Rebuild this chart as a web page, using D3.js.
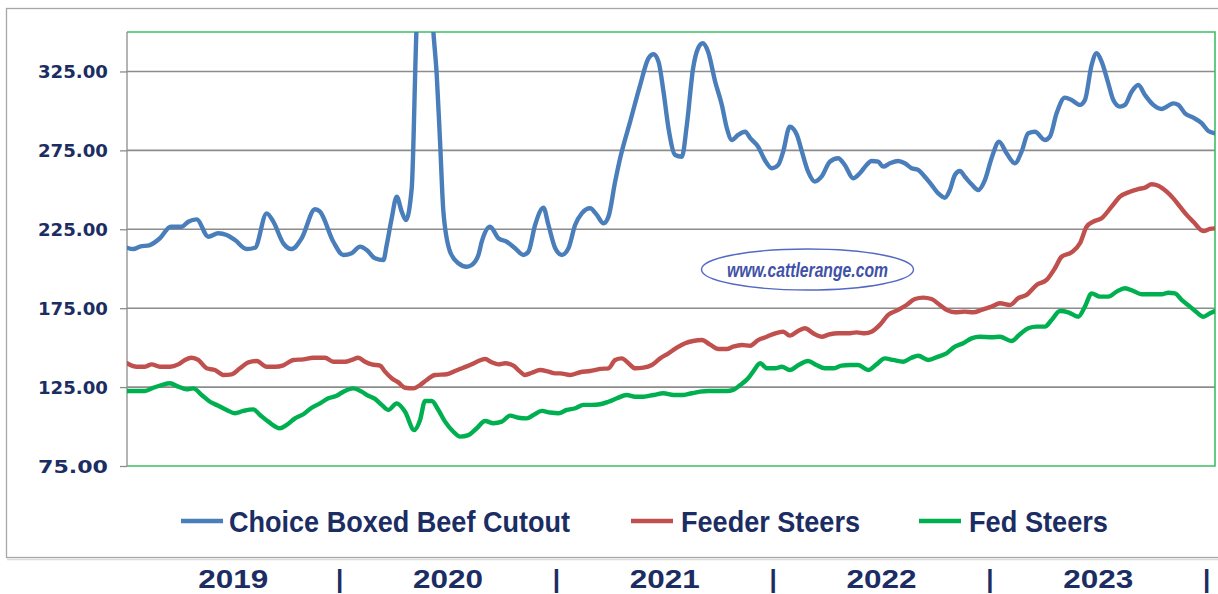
<!DOCTYPE html>
<html>
<head>
<meta charset="utf-8">
<script src="https://cdn.jsdelivr.net/npm/d3@7"></script>
<style>
  html, body { margin: 0; padding: 0; background: #ffffff; }
  svg { display: block; }
</style>
</head>
<body>
<svg id="chart" width="1218" height="594"></svg>
<script>
// ---------------- DATA (week index from start of series, value in $/cwt) ----------------
const beefWeeks = [0,1.5,3.1,5.5,7.9,10.5,13.1,14.7,16.7,19.5,21.9,23.9,25.9,28.7,30.7,33.5,35.1,37.5,39.5,41.9,45.1,46.3,49.5,51.9,53.9,55.9,57.5,59.5,61.5,62.3,63.5,64.7,65.9,66.9,68.3,69.3,71.0,73.5,74.3,75.1,75.9,77.5,79.5,81.5,82.7,84.3,85.1,87.1,89.1,91.1,93.1,95.1,96.3,97.9,99.9,101.1,102.7,104.3,105.9,107.5,109.1,111.1,112.7,114.3,115.5,117.1,118.3,120.7,123.1,125.1,126.3,127.5,128.7,129.9,131.5,133.1,134.3,135.8,137.0,138.1,139.4,141.1,142.7,143.9,145.1,146.6,148.3,149.5,151.4,153.0,154.7,156.2,157.4,159.0,160.7,161.9,163.4,165.0,166.6,168.6,170.6,172.2,174.2,175.8,177.4,178.6,180.2,181.4,183.0,185.0,186.6,188.2,189.8,191.4,193.0,194.6,196.2,197.4,198.6,199.8,201.0,202.6,204.2,205.8,207.4,209.2,211.0,213.0,214.6,216.2,217.8,220.2,221.4,223.0,225.0,226.6,228.6,229.8,231.4,232.6,233.8,235.4,236.6,238.2,239.4,241.0,242.6,244.2,246.2,248.2,249.4,251.0,252.2,253.8,255.8,257.8,259.4,261.0];
const beefValues = [213.3,212.5,214.0,215.0,219.3,226.6,226.6,229.8,231.3,220.3,222.5,221.4,218.2,212.5,213.3,235.1,229.8,216.1,212.5,219.3,237.7,236.2,217.1,208.7,209.8,214.0,211.9,206.6,205.5,215.0,232.0,245.7,236.2,230.9,251.0,340.0,470.0,350.0,322.8,280.5,236.2,210.8,203.5,201.3,202.4,208.7,217.1,226.6,219.3,217.1,213.0,208.7,210.8,227.7,238.7,227.7,213.1,208.7,213.0,227.7,235.1,238.3,234.1,228.8,233.0,255.2,270.0,293.2,316.4,333.4,335.9,331.2,312.2,289.0,272.1,271.0,291.1,327.0,339.7,342.9,337.5,318.5,303.8,289.0,281.6,284.8,286.8,282.7,277.3,268.9,263.7,265.7,274.2,290.0,284.8,274.2,261.5,255.2,258.3,267.8,270.0,265.7,257.3,260.5,265.7,268.3,267.8,264.7,266.8,268.3,266.8,263.7,262.6,258.3,253.1,247.8,245.0,249.9,259.4,261.9,258.3,253.5,249.9,256.2,270.0,280.5,273.2,266.8,274.2,285.8,286.8,281.6,283.7,298.5,308.4,306.9,303.8,306.9,329.1,336.5,331.2,317.5,306.9,302.7,303.8,312.2,316.4,310.1,303.8,301.2,302.7,304.8,303.8,298.5,295.7,292.2,287.3,285.8];

const feederWeeks = [0,2.3,4.3,5.9,7.9,10.3,12.3,13.9,15.5,17.1,19.1,21.1,23.1,25.1,27.1,29.1,31.1,33.5,35.5,37.5,39.9,42.3,44.7,47.5,49.5,52.3,53.9,55.5,57.1,58.7,60.7,61.9,63.5,65.1,66.7,68.7,70.3,71.9,73.9,76.7,78.7,80.7,82.7,84.3,85.9,87.5,89.1,90.7,92.7,94.3,95.5,97.1,99.1,101.1,102.7,103.9,106.3,108.7,111.1,113.5,115.5,117.1,118.7,120.3,121.9,123.9,125.9,127.9,129.9,131.9,133.9,135.8,137.9,139.8,141.9,143.9,145.4,147.5,149.5,151.4,153.5,155.5,157.4,159.0,160.7,162.6,164.6,166.6,168.6,170.6,173.0,175.0,177.0,178.6,180.6,182.6,185.0,187.0,189.0,191.0,193.0,195.0,196.6,198.6,201.0,203.0,205.0,207.4,209.4,211.8,213.8,215.8,218.2,220.6,222.6,224.2,226.6,228.6,230.2,231.8,233.8,236.2,238.2,240.6,242.6,244.2,245.8,247.4,249.4,251.0,252.6,254.2,255.8,258.2,259.8,261.0];
const feederValues = [140.1,137.9,137.9,139.4,137.9,137.9,139.4,142.2,143.6,142.2,136.9,135.8,132.7,133.1,136.9,140.7,141.5,137.9,137.9,138.8,142.2,142.6,143.6,143.6,141.1,141.1,142.2,143.6,141.1,139.4,138.6,134.8,130.6,128.0,124.6,124.2,126.3,129.5,132.7,133.1,135.2,137.3,139.4,141.5,142.8,140.7,139.4,140.1,138.6,134.8,132.7,134.1,135.8,134.8,133.7,133.7,132.7,134.4,135.2,136.5,136.9,142.2,143.2,140.1,136.9,137.3,139.0,143.2,146.4,150.0,152.8,154.2,154.8,152.1,149.1,149.1,150.6,151.7,151.2,154.8,156.9,159.1,160.1,157.6,160.1,162.3,159.1,156.9,158.5,159.1,159.1,159.7,159.1,160.1,164.4,170.7,173.9,177.0,180.8,181.7,180.8,177.0,173.9,172.4,172.8,172.4,173.9,176.0,178.1,177.0,181.3,183.4,189.7,192.9,200.3,207.6,210.4,216.1,226.6,229.8,232.0,239.3,245.7,248.8,250.5,251.4,253.5,252.6,248.8,244.6,239.3,234.1,229.8,223.9,225.2,225.6];

const fedWeeks = [0,2.3,4.3,6.3,8.3,10.3,12.3,14.3,15.9,17.9,19.9,21.9,23.9,25.9,27.9,30.3,31.9,33.9,36.7,38.3,40.3,42.3,44.3,46.3,48.3,50.3,51.9,54.3,56.3,57.9,59.5,61.1,62.7,64.7,66.7,68.9,70.3,71.5,73.1,74.7,76.3,78.3,79.9,81.9,83.9,85.9,87.9,89.9,91.9,93.9,95.9,97.5,99.5,101.5,103.5,105.5,107.5,109.5,111.5,113.5,115.5,117.5,119.9,121.9,123.9,126.3,128.7,131.1,133.5,135.5,137.5,139.4,141.5,143.9,145.4,147.1,149.0,150.2,151.9,153.5,155.5,157.1,159.0,161.1,163.4,165.4,167.4,169.4,171.4,173.4,175.4,177.8,179.8,181.8,183.8,186.2,188.2,189.8,192.2,194.6,196.6,198.6,200.6,202.6,204.6,207.4,209.4,212.2,214.2,216.2,218.2,220.2,221.8,223.8,225.8,228.2,229.8,231.4,233.4,235.4,237.4,239.4,241.4,243.4,245.8,248.2,249.8,251.4,253.0,255.0,256.6,258.2,259.8,261.0];
const fedValues = [122.5,122.5,122.5,124.6,126.3,127.4,125.3,123.6,124.2,120.0,115.7,113.2,110.5,108.4,109.9,110.9,107.3,103.1,98.9,101.0,105.2,107.8,111.9,114.7,117.9,119.5,122.1,124.2,122.1,119.5,117.5,113.7,110.5,114.7,109.4,97.8,104.2,116.2,116.2,110.5,103.1,96.7,93.6,94.6,98.9,103.5,102.1,103.1,106.9,105.6,105.2,107.3,109.9,108.9,108.4,110.5,111.6,113.7,113.7,114.1,115.7,117.9,120.0,118.9,118.9,120.0,121.1,120.0,120.0,121.1,122.1,122.5,122.5,122.5,123.2,126.3,130.6,134.8,140.1,136.9,136.9,137.9,135.8,139.0,141.5,139.0,136.9,136.9,138.6,139.0,139.0,135.8,139.4,143.2,142.2,141.1,143.6,144.9,142.2,144.3,146.4,150.6,152.8,155.9,156.9,156.6,156.9,154.2,158.5,162.3,163.3,163.3,167.5,173.2,172.4,169.6,176.0,184.4,182.3,182.3,185.5,187.6,185.9,183.8,183.8,183.8,184.8,184.4,180.2,176.0,172.4,169.6,171.8,173.2];

const seriesNames = ["Choice Boxed Beef Cutout", "Feeder Steers", "Fed Steers"];
const yTicks = [75, 125, 175, 225, 275, 325];
const yearLabels = ["2019", "2020", "2021", "2022", "2023"];
const yearEndWeeks = [51, 103, 155, 207, 259];
const watermarkText = "www.cattlerange.com";

// ---------------- LAYOUT ----------------
const svg = d3.select("#chart");
const plot = { left: 127, right: 1215, top: 32, bottom: 466 };
const navy = "#1b2d62";
const colors = ["#4a7ebb", "#c0504d", "#00b050"];

const x = d3.scaleLinear().domain([0, 261]).range([plot.left, plot.right]);
const y = d3.scaleLinear().domain([75, 350]).range([plot.bottom, plot.top]);

// outer frame
svg.append("rect")
  .attr("x", 6.5).attr("y", 8.5).attr("width", 1240).attr("height", 549)
  .attr("fill", "#ffffff").attr("stroke", "#a6a6a6").attr("stroke-width", 1.3);
svg.append("line").attr("x1", 7).attr("x2", 1218).attr("y1", 559.5).attr("y2", 559.5)
  .attr("stroke", "#dcdcdc").attr("stroke-width", 1.5);

// y axis ticks and labels
const yAxis = d3.axisLeft(y).tickValues(yTicks).tickSize(7).tickFormat(d3.format(".2f"));
const gAxis = svg.append("g").attr("transform", `translate(${plot.left},0)`).call(yAxis);
gAxis.select(".domain").remove();
gAxis.selectAll(".tick line").attr("stroke", "#8c8c8c").attr("stroke-width", 1.3);
gAxis.selectAll(".tick text")
  .attr("x", -19)
  .attr("dy", "0.36em")
  .attr("textLength", 70).attr("lengthAdjust", "spacingAndGlyphs")
  .attr("fill", navy)
  .style("font-family", "'DejaVu Sans', Verdana, sans-serif")
  .style("font-weight", "bold")
  .style("font-size", "18px");

// gridlines
svg.append("g").selectAll("line")
  .data(yTicks.filter(d => d > 75))
  .join("line")
  .attr("x1", plot.left).attr("x2", plot.right)
  .attr("y1", d => y(d)).attr("y2", d => y(d))
  .attr("stroke", "#8c8c8c").attr("stroke-width", 1.6);

// plot border: green top/right/bottom, gray left
const green = "#3cbf63";
svg.append("path")
  .attr("d", `M${plot.left},${plot.top}H${plot.right}V${plot.bottom}H${plot.left}`)
  .attr("fill", "none").attr("stroke", green).attr("stroke-width", 1.6);
svg.append("line")
  .attr("x1", plot.left).attr("x2", plot.left).attr("y1", plot.top).attr("y2", plot.bottom)
  .attr("stroke", "#8c8c8c").attr("stroke-width", 1.3);

// watermark
const wm = svg.append("g");
wm.append("ellipse")
  .attr("cx", 807.5).attr("cy", 269.5).attr("rx", 106).attr("ry", 20.5)
  .attr("fill", "none").attr("stroke", "#5468c4").attr("stroke-width", 1.4);
wm.append("text")
  .attr("x", 807.5).attr("y", 276.5)
  .attr("text-anchor", "middle")
  .attr("textLength", 161).attr("lengthAdjust", "spacingAndGlyphs")
  .attr("fill", "#3f52a6")
  .style("font-family", "'Liberation Sans', Arial, sans-serif")
  .style("font-weight", "bold").style("font-style", "italic")
  .style("font-size", "20px")
  .text(watermarkText);

// clip
svg.append("clipPath").attr("id", "clip")
  .append("rect").attr("x", plot.left).attr("y", plot.top)
  .attr("width", plot.right - plot.left).attr("height", plot.bottom - plot.top);

const line = d3.line().x(d => x(d[0])).y(d => y(d[1])).curve(d3.curveMonotoneX);
const series = [
  d3.zip(beefWeeks, beefValues),
  d3.zip(feederWeeks, feederValues),
  d3.zip(fedWeeks, fedValues)
];
const gLines = svg.append("g").attr("clip-path", "url(#clip)");
[2, 1, 0].forEach(i => {
  gLines.append("path")
    .attr("d", line(series[i]))
    .attr("fill", "none")
    .attr("stroke", colors[i])
    .attr("stroke-width", 4.4)
    .attr("stroke-linejoin", "round")
    .attr("stroke-linecap", "round");
});

// legend
const legendItems = [
  { x: 181, tx: 229, w: 341 },
  { x: 631, tx: 681, w: 179 },
  { x: 919, tx: 969, w: 139 }
];
const legend = svg.append("g");
legendItems.forEach((it, i) => {
  legend.append("line")
    .attr("x1", it.x).attr("x2", it.x + 42)
    .attr("y1", 521).attr("y2", 521)
    .attr("stroke", colors[i]).attr("stroke-width", 4.5);
  legend.append("text")
    .attr("x", it.tx).attr("y", 531.5)
    .attr("textLength", it.w).attr("lengthAdjust", "spacingAndGlyphs")
    .attr("fill", navy)
    .style("font-family", "'Liberation Sans Narrow', 'Liberation Sans', Arial, sans-serif")
    .style("font-weight", "bold")
    .style("font-size", "29px")
    .text(seriesNames[i]);
});

// year labels below frame
const yearG = svg.append("g");
yearLabels.forEach((lab, i) => {
  const start = i === 0 ? 0 : yearEndWeeks[i - 1];
  const cx = (x(start) + x(yearEndWeeks[i])) / 2;
  yearG.append("text")
    .attr("x", cx).attr("y", 588)
    .attr("text-anchor", "middle")
    .attr("textLength", 70).attr("lengthAdjust", "spacingAndGlyphs")
    .attr("fill", navy)
    .style("font-family", "'Liberation Sans', Arial, sans-serif")
    .style("font-weight", "bold")
    .style("font-size", "26px")
    .text(lab);
  yearG.append("text")
    .attr("x", x(yearEndWeeks[i])).attr("y", 588)
    .attr("text-anchor", "middle")
    .attr("fill", navy)
    .style("font-family", "'Liberation Sans', Arial, sans-serif")
    .style("font-weight", "bold")
    .style("font-size", "26px")
    .text("|");
});
</script>
</body>
</html>
